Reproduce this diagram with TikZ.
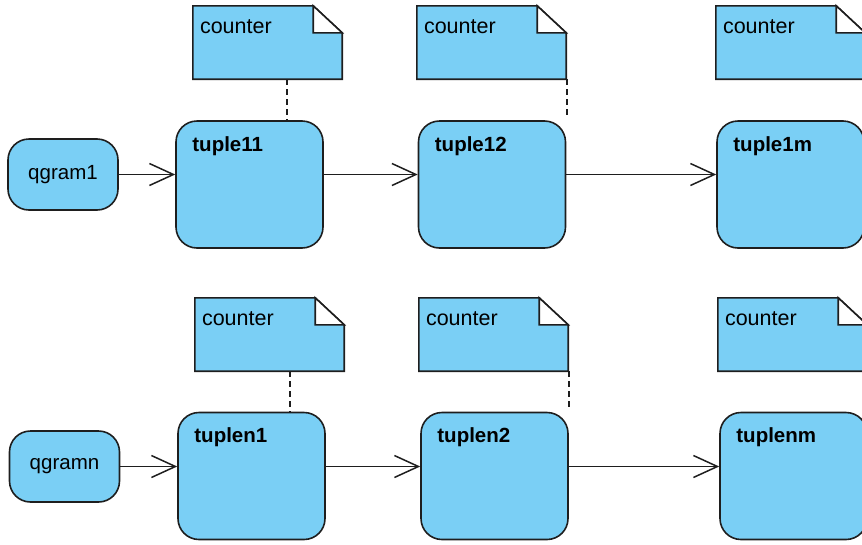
\documentclass[tikz,border=0pt]{standalone}
\usepackage{fontspec}
\setmainfont{Liberation Sans}
\usetikzlibrary{arrows.meta,calc}

\definecolor{nodeblue}{RGB}{122,207,245}
\definecolor{edgegray}{RGB}{30,30,30}

\tikzset{
  every node/.style={font=\fontsize{20.5}{22}\selectfont},
  state/.style={draw=edgegray, fill=nodeblue, line width=1.6pt,
    rounded corners=21pt, inner sep=0pt},
  qbox/.style={state, minimum width=110pt, minimum height=71pt},
  tbox/.style={state, minimum width=147pt, minimum height=127pt},
  tlabel/.style={anchor=base west, inner sep=0pt, xshift=17pt, yshift=-31pt,
    font=\fontsize{20.5}{22}\selectfont\bfseries},
  notearea/.style={minimum width=149pt, minimum height=73pt, inner sep=0pt},
  notetext/.style={anchor=base west, inner sep=0pt, font=\fontsize{21.5}{23}\selectfont},
  flow/.style={draw=edgegray, line width=1.5pt,
    -{Straight Barb[length=24pt,width=22pt,line width=1.5pt]}},
  notelink/.style={draw=edgegray, line width=1.6pt, dash pattern=on 6pt off 4pt}
}

% dog-eared note drawn around a named placeholder node
\newcommand{\notebox}[1]{%
  \fill[nodeblue] (#1.north west) -- ([xshift=-29pt]#1.north east)
    -- ([yshift=-27pt]#1.north east) -- (#1.south east) -- (#1.south west) -- cycle;
  \draw[edgegray, line width=1.6pt, line join=miter]
    ([yshift=-27pt]#1.north east) -- (#1.south east) -- (#1.south west)
    -- (#1.north west) -- ([xshift=-29pt]#1.north east)
    -- ([yshift=-27pt]#1.north east);
  \filldraw[fill=white, draw=edgegray, line width=1.6pt, line join=miter]
    ([xshift=-29pt]#1.north east) -- ([xshift=-29pt,yshift=-27pt]#1.north east)
    -- ([yshift=-27pt]#1.north east) -- cycle;
  \node[notetext] at ([xshift=7pt,yshift=-28pt]#1.north west) {counter};
}

\begin{document}
\begin{tikzpicture}[x=1pt,y=-1pt]
  \useasboundingbox (0,0) rectangle (862,544);
  \clip (0,0) rectangle (862,544);

  % first row
  \node[notearea] (n11) at (267.5,42.5) {};
  \node[notearea] (n12) at (491.5,42.5) {};
  \node[notearea] (n13) at (790.5,42.5) {};
  \notebox{n11}
  \notebox{n12}
  \notebox{n13}

  \node[qbox] (q1) at (63,174.5) {qgram1};
  \node[tbox, label={[tlabel]north west:tuple11}] (t11) at (249.5,184.5) {};
  \node[tbox, label={[tlabel]north west:tuple12}] (t12) at (492,184.5) {};
  \node[tbox, label={[tlabel]north west:tuple1m}] (t1m) at (790.5,184.5) {};

  \draw[flow] (q1.east) -- (q1.east -| t11.west);
  \draw[flow] (t11.east |- q1.east) -- (t12.west |- q1.east);
  \draw[flow] (t12.east |- q1.east) -- (t1m.west |- q1.east);

  \draw[notelink] ([xshift=-55pt]n11.south east) -- ([xshift=-55pt]n11.south east |- t11.north);
  \draw[notelink] ([xshift=1pt]n12.south east) -- ([xshift=1pt,yshift=3pt]n12.south east |- t12.north);

  % second row
  \node[notearea] (n21) at (269.5,334.5) {};
  \node[notearea] (n22) at (493.5,334.5) {};
  \node[notearea] (n23) at (792.5,334.5) {};
  \notebox{n21}
  \notebox{n22}
  \notebox{n23}

  \node[qbox] (qn) at (64.5,466.5) {qgramn};
  \node[tbox, label={[tlabel]north west:tuplen1}] (tn1) at (251.5,476) {};
  \node[tbox, label={[tlabel]north west:tuplen2}] (tn2) at (494.5,476) {};
  \node[tbox, label={[tlabel]north west:tuplenm}] (tnm) at (793.5,476) {};

  \draw[flow] (qn.east) -- (qn.east -| tn1.west);
  \draw[flow] (tn1.east |- qn.east) -- (tn2.west |- qn.east);
  \draw[flow] (tn2.east |- qn.east) -- (tnm.west |- qn.east);

  \draw[notelink] ([xshift=-54pt]n21.south east) -- ([xshift=-54pt]n21.south east |- tn1.north);
  \draw[notelink] ([xshift=1pt]n22.south east) -- ([xshift=1pt,yshift=3pt]n22.south east |- tn2.north);
\end{tikzpicture}
\end{document}
